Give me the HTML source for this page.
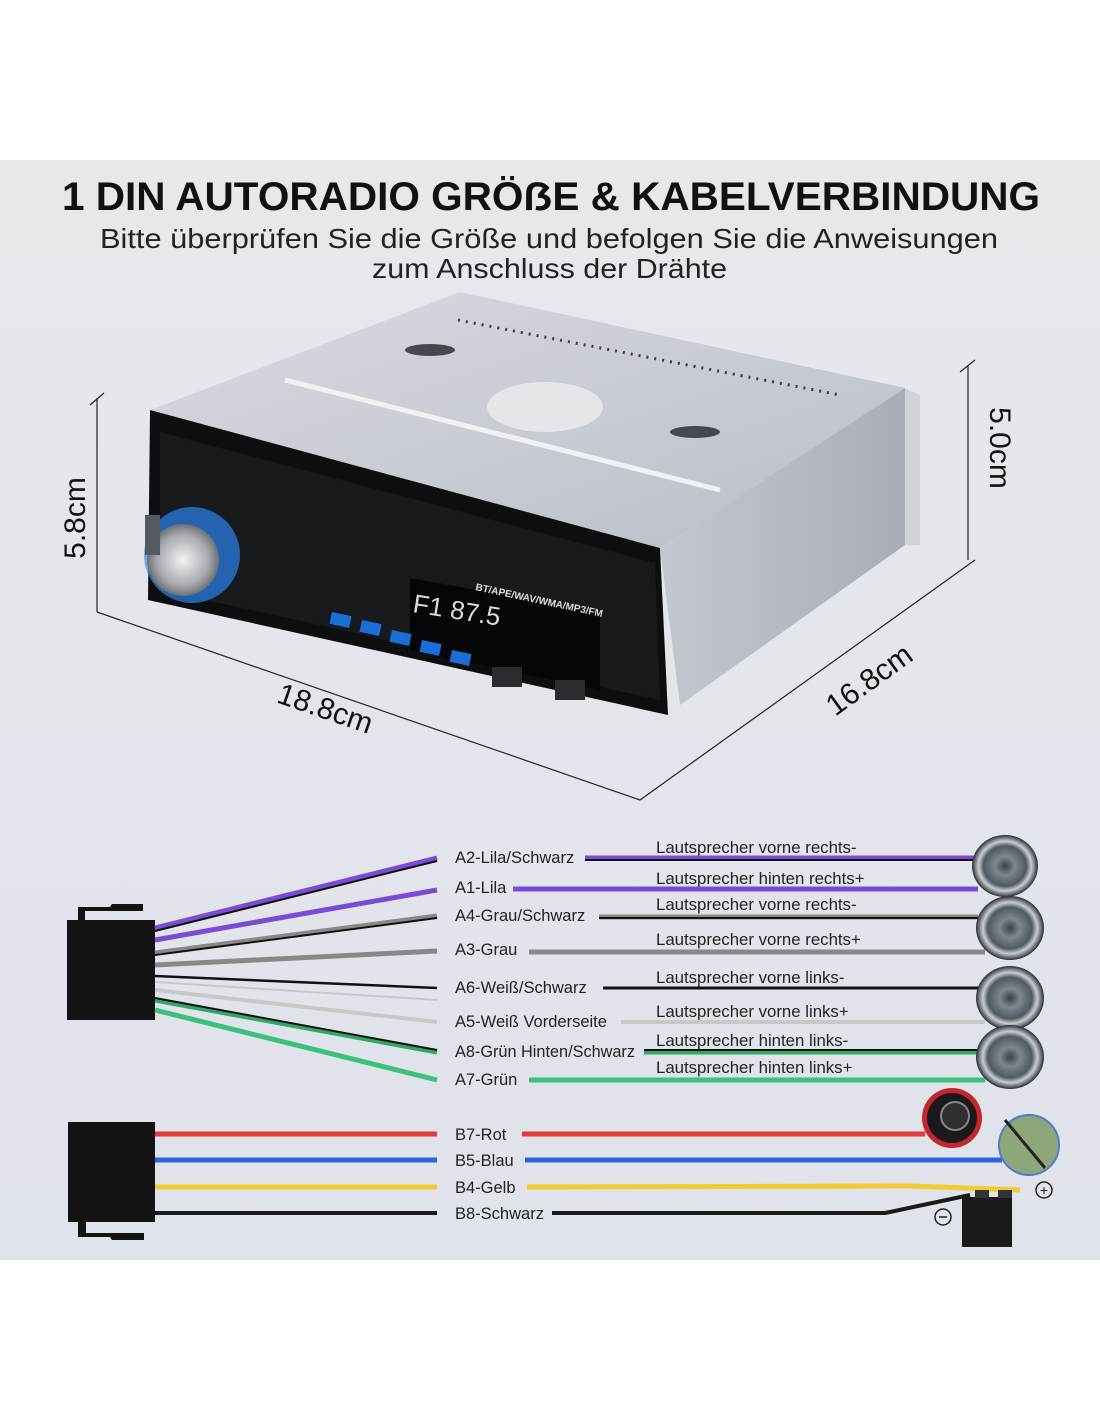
<!DOCTYPE html>
<html><head><meta charset="utf-8"><style>
html,body{margin:0;padding:0;background:#fff}
svg{display:block}
text{font-family:"Liberation Sans",sans-serif}
</style></head><body>
<svg width="1100" height="1422" viewBox="0 0 1100 1422" xmlns="http://www.w3.org/2000/svg">
<defs>
<linearGradient id="bg" x1="0" y1="0" x2="0" y2="1"><stop offset="0" stop-color="#e6e8ec"/><stop offset="1" stop-color="#dfe3ea"/></linearGradient>
<linearGradient id="top" x1="0" y1="0" x2="1" y2="1"><stop offset="0" stop-color="#d8dbe0"/><stop offset="1" stop-color="#b9bec6"/></linearGradient>
<linearGradient id="side" x1="0" y1="0" x2="1" y2="0"><stop offset="0" stop-color="#c3c7ce"/><stop offset="1" stop-color="#a9aeb6"/></linearGradient>
<radialGradient id="knob"><stop offset="0" stop-color="#f2f2f2"/><stop offset="0.7" stop-color="#a8abb0"/><stop offset="1" stop-color="#6d7075"/></radialGradient>
<radialGradient id="spk"><stop offset="0" stop-color="#3b4045"/><stop offset="0.3" stop-color="#7d8790"/><stop offset="0.65" stop-color="#515960"/><stop offset="0.8" stop-color="#c8cdd2"/><stop offset="0.92" stop-color="#6a7075"/><stop offset="1" stop-color="#2a2d30"/></radialGradient>
</defs>
<rect x="0" y="160" width="1100" height="1100" fill="url(#bg)"/>
<text x="62" y="210" font-size="40" font-weight="bold" textLength="978" lengthAdjust="spacingAndGlyphs" fill="#111">1 DIN AUTORADIO GRÖẞE &amp; KABELVERBINDUNG</text>
<text x="100" y="248" font-size="28" textLength="898" lengthAdjust="spacingAndGlyphs" fill="#222">Bitte überprüfen Sie die Größe und befolgen Sie die Anweisungen</text>
<text x="372" y="278" font-size="28" textLength="355" lengthAdjust="spacingAndGlyphs" fill="#222">zum Anschluss der Drähte</text>

<g stroke="#222" stroke-width="1.2" fill="none">
<line x1="97" y1="398" x2="97" y2="612"/><line x1="90" y1="405" x2="104" y2="393"/>
<line x1="97" y1="612" x2="640" y2="800"/>
<line x1="640" y1="800" x2="975" y2="560"/>
<line x1="968" y1="365" x2="968" y2="560"/><line x1="960" y1="372" x2="975" y2="360"/>
</g>
<text transform="translate(85,518) rotate(-90)" font-size="30" text-anchor="middle" fill="#111">5.8cm</text>
<text transform="translate(990,448) rotate(90)" font-size="30" text-anchor="middle" fill="#111">5.0cm</text>
<text transform="translate(322,718) rotate(19)" font-size="30" text-anchor="middle" fill="#111">18.8cm</text>
<text transform="translate(875,688) rotate(-36)" font-size="30" text-anchor="middle" fill="#111">16.8cm</text>

<polygon points="455,292 905,388 920,395 920,545 905,545" fill="#cfd2d6"/>
<polygon points="150,410 460,292 905,388 660,548" fill="url(#top)"/>
<polygon points="660,548 905,388 905,545 680,705" fill="url(#side)"/>
<g stroke="#3a3d42" stroke-width="3" stroke-dasharray="2 6">
<line x1="458" y1="320" x2="840" y2="395"/>
</g>
<ellipse cx="545" cy="407" rx="58" ry="25" fill="#e4e6ea"/>
<ellipse cx="430" cy="350" rx="25" ry="6" fill="#45484d"/>
<ellipse cx="695" cy="432" rx="25" ry="6" fill="#45484d"/>
<line x1="285" y1="380" x2="720" y2="490" stroke="#f0f1f3" stroke-width="5"/>
<polygon points="150,410 660,548 668,715 148,600" fill="#0d0e10"/>
<polygon points="160,432 655,563 660,700 160,590" fill="#17191c"/>
<polygon points="410,578 600,612 600,690 410,650" fill="#050607"/>
<text x="412" y="612" font-size="26" fill="#d8dbe0" transform="rotate(9 412 612)" font-family="Liberation Mono">F1  87.5</text>
<text x="475" y="590" font-size="10" fill="#ddd" transform="rotate(12 475 590)" font-weight="bold">BT/APE/WAV/WMA/MP3/FM</text>
<g fill="#1a6fd6">
<rect x="332" y="612" width="20" height="12" transform="rotate(12 332 612)"/>
<rect x="362" y="620" width="20" height="12" transform="rotate(12 362 620)"/>
<rect x="392" y="630" width="20" height="12" transform="rotate(12 392 630)"/>
<rect x="422" y="640" width="20" height="12" transform="rotate(12 422 640)"/>
<rect x="452" y="650" width="20" height="12" transform="rotate(12 452 650)"/>
</g>
<rect x="492" y="667" width="30" height="20" fill="#2a2c30"/>
<rect x="555" y="680" width="30" height="20" fill="#2a2c30"/>
<circle cx="192" cy="555" r="48" fill="#2a8cff" opacity="0.65"/>
<circle cx="183" cy="560" r="36" fill="url(#knob)"/>
<rect x="145" y="515" width="15" height="40" fill="#555a60"/>

<rect x="67" y="920" width="88" height="100" fill="#131313"/>
<path d="M78 920 V907 H110 L112 904 H143 V911 H85 V920Z" fill="#131313"/>
<rect x="68" y="1122" width="87" height="100" fill="#131313"/>
<path d="M78 1222 V1237 H110 L112 1240 H144 V1233 H86 V1222Z" fill="#131313"/>

<g fill="none">
<path d="M155 928 L437 858" stroke="#7a4bd6" stroke-width="5"/><path d="M155 931 L437 861" stroke="#111" stroke-width="2"/>
<path d="M155 940 L437 890" stroke="#7a4bd6" stroke-width="5"/>
<path d="M155 953 L437 916" stroke="#888" stroke-width="5"/><path d="M155 955 L437 918" stroke="#111" stroke-width="2"/>
<path d="M155 965 L437 951" stroke="#888" stroke-width="5"/>
<path d="M155 976 L437 988" stroke="#111" stroke-width="2.5"/>
<path d="M155 982 L437 1000" stroke="#c8c8c8" stroke-width="2"/>
<path d="M155 990 L437 1022" stroke="#c8c8c8" stroke-width="4"/>
<path d="M155 1000 L437 1052" stroke="#2fa865" stroke-width="5"/><path d="M155 998 L437 1050" stroke="#111" stroke-width="2"/>
<path d="M155 1010 L437 1080" stroke="#3cc07a" stroke-width="5"/>
</g>
<g font-size="16.5" fill="#222">
<text x="455" y="863">A2-Lila/Schwarz</text>
<text x="455" y="893">A1-Lila</text>
<text x="455" y="921">A4-Grau/Schwarz</text>
<text x="455" y="955">A3-Grau</text>
<text x="455" y="993">A6-Weiß/Schwarz</text>
<text x="455" y="1027">A5-Weiß Vorderseite</text>
<text x="455" y="1057" textLength="180" lengthAdjust="spacingAndGlyphs">A8-Grün Hinten/Schwarz</text>
<text x="455" y="1085">A7-Grün</text>
<text x="455" y="1140">B7-Rot</text>
<text x="455" y="1166">B5-Blau</text>
<text x="455" y="1193">B4-Gelb</text>
<text x="455" y="1219">B8-Schwarz</text>
</g>
<g font-size="16.8" fill="#222">
<text x="656" y="853">Lautsprecher vorne rechts-</text>
<text x="656" y="884">Lautsprecher hinten rechts+</text>
<text x="656" y="910">Lautsprecher vorne rechts-</text>
<text x="656" y="945">Lautsprecher vorne rechts+</text>
<text x="656" y="983">Lautsprecher vorne links-</text>
<text x="656" y="1017">Lautsprecher vorne links+</text>
<text x="656" y="1046">Lautsprecher hinten links-</text>
<text x="656" y="1073">Lautsprecher hinten links+</text>
</g>
<g fill="none">
<line x1="585" y1="858" x2="975" y2="858" stroke="#7a4bd6" stroke-width="5"/><line x1="585" y1="860" x2="975" y2="860" stroke="#111" stroke-width="2"/>
<line x1="513" y1="889" x2="978" y2="889" stroke="#7a4bd6" stroke-width="5"/>
<line x1="599" y1="917" x2="978" y2="917" stroke="#888" stroke-width="5"/><line x1="599" y1="918" x2="978" y2="918" stroke="#111" stroke-width="2"/>
<line x1="529" y1="952" x2="985" y2="952" stroke="#888" stroke-width="5"/>
<line x1="603" y1="988" x2="980" y2="988" stroke="#111" stroke-width="3"/>
<line x1="621" y1="1022" x2="985" y2="1022" stroke="#c8c8c8" stroke-width="4"/>
<line x1="644" y1="1052" x2="980" y2="1052" stroke="#2fa865" stroke-width="5"/><line x1="644" y1="1050" x2="980" y2="1050" stroke="#111" stroke-width="2"/>
<line x1="529" y1="1080" x2="985" y2="1080" stroke="#3cc07a" stroke-width="5"/>
<line x1="155" y1="1134" x2="437" y2="1134" stroke="#e53a3a" stroke-width="5"/>
<line x1="522" y1="1134" x2="925" y2="1134" stroke="#e53a3a" stroke-width="5"/>
<line x1="155" y1="1160" x2="437" y2="1160" stroke="#2f62e0" stroke-width="5"/>
<line x1="525" y1="1160" x2="1002" y2="1160" stroke="#2f62e0" stroke-width="5"/>
<line x1="155" y1="1187" x2="437" y2="1187" stroke="#f0cc30" stroke-width="5"/>
<path d="M527 1187 L910 1186 L1020 1190" stroke="#f0cc30" stroke-width="5"/>
<line x1="155" y1="1213" x2="437" y2="1213" stroke="#1a1a1a" stroke-width="4"/>
<path d="M552 1213 L885 1213 L970 1195" stroke="#1a1a1a" stroke-width="4"/>
</g>
<g>
<ellipse cx="1005" cy="866" rx="33" ry="31" fill="url(#spk)"/>
<ellipse cx="1010" cy="928" rx="34" ry="32" fill="url(#spk)"/>
<ellipse cx="1010" cy="998" rx="34" ry="32" fill="url(#spk)"/>
<ellipse cx="1010" cy="1057" rx="34" ry="32" fill="url(#spk)"/>
</g>
<circle cx="952" cy="1118" r="30" fill="#c4262b"/><circle cx="952" cy="1118" r="25" fill="#1a1a1d"/><circle cx="955" cy="1116" r="14" fill="#2f3034" stroke="#888" stroke-width="2"/>
<circle cx="1029" cy="1145" r="30" fill="#8fa57a" stroke="#4f7cd0" stroke-width="2"/><line x1="1005" y1="1120" x2="1045" y2="1168" stroke="#222" stroke-width="3"/>
<rect x="962" y="1197" width="50" height="50" fill="#1b1b1d"/><rect x="975" y="1190" width="14" height="8" fill="#333"/><rect x="998" y="1190" width="14" height="8" fill="#333"/>
<circle cx="1044" cy="1190" r="8" fill="none" stroke="#222" stroke-width="1.5"/><text x="1044" y="1195" font-size="14" text-anchor="middle" fill="#222">+</text>
<circle cx="943" cy="1217" r="8" fill="none" stroke="#222" stroke-width="1.5"/><line x1="939" y1="1217" x2="947" y2="1217" stroke="#222" stroke-width="1.5"/>
</svg>
</body></html>
